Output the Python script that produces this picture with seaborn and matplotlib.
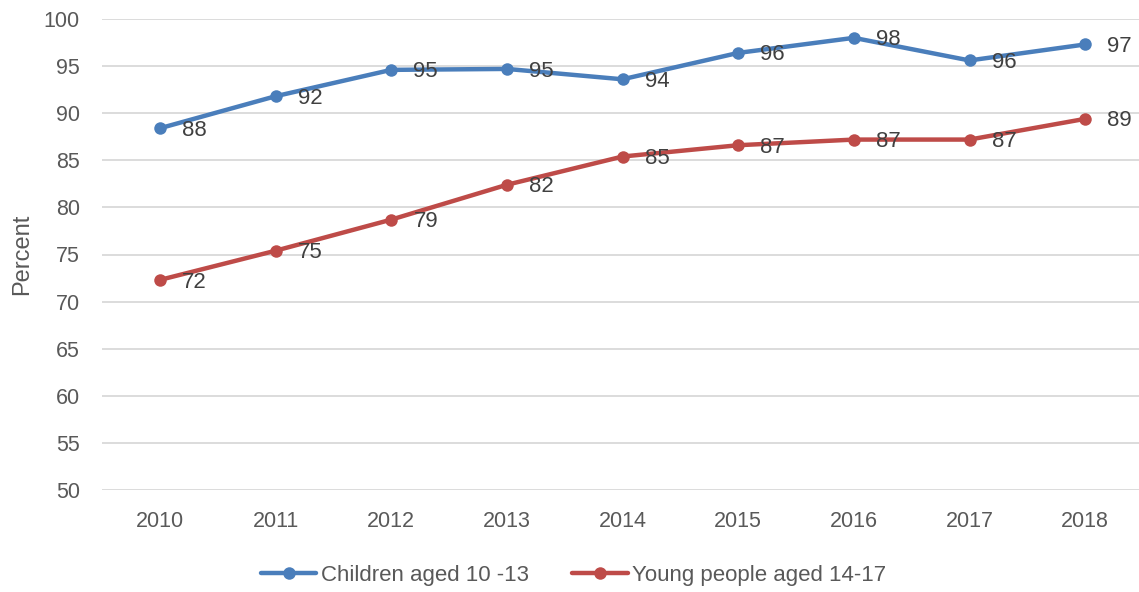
import matplotlib
matplotlib.use("Agg")
import matplotlib.pyplot as plt
import pandas as pd
import seaborn as sns

# Share of each age group, by year (percent)
years = [2010, 2011, 2012, 2013, 2014, 2015, 2016, 2017, 2018]
children_10_13 = [88.4, 91.8, 94.6, 94.7, 93.6, 96.4, 98.0, 95.6, 97.3]
young_14_17 = [72.3, 75.4, 78.7, 82.4, 85.4, 86.6, 87.2, 87.2, 89.4]
series_names = ["Children aged 10 -13", "Young people aged 14-17"]
y_ticks = [50, 55, 60, 65, 70, 75, 80, 85, 90, 95, 100]

colors = ["#4A7EBB", "#BE4B48"]

df = pd.concat([
    pd.DataFrame({"Year": years, "Percent": children_10_13, "Series": series_names[0]}),
    pd.DataFrame({"Year": years, "Percent": young_14_17, "Series": series_names[1]}),
])

sns.set_theme(style="white")
plt.rcParams["font.family"] = ["Liberation Sans", "DejaVu Sans"]

fig = plt.figure(figsize=(11.39, 5.92), dpi=100)
ax = fig.add_axes([102 / 1139, 1 - 490 / 592, (1143 - 102) / 1139, (490 - 19) / 592])

sns.lineplot(
    data=df, x="Year", y="Percent", hue="Series", palette=colors,
    marker="o", markersize=9, markeredgewidth=0, linewidth=3.2,
    ax=ax, legend=True,
)

# Value labels to the right of each point
for vals in (children_10_13, young_14_17):
    for x, v in zip(years, vals):
        ax.annotate(f"{v:.0f}", (x, v), xytext=(16, -1.5), textcoords="offset points",
                    ha="left", va="center", fontsize=16, color="#404040")

ax.set_xlim(years[0] - 0.5, years[-1] + 0.5)
ax.set_ylim(50, 100)
ax.set_yticks(y_ticks)
ax.set_xticks(years)
ax.set_xticklabels([str(y) for y in years])
ax.yaxis.grid(True, color="#D9D9D9", linewidth=1.3)
ax.xaxis.grid(False)
for s in ax.spines.values():
    s.set_visible(False)
ax.tick_params(axis="y", length=0, pad=16, labelsize=15.5, labelcolor="#595959")
ax.tick_params(axis="x", length=0, pad=15, labelsize=15.5, labelcolor="#595959")
ax.set_xlabel("")
ax.set_ylabel("Percent", fontsize=17, color="#595959")
ax.yaxis.set_label_coords(-0.066, 0.5)

handles, labels = ax.get_legend_handles_labels()
ax.get_legend().remove()
fig.legend(handles, labels, loc="center", bbox_to_anchor=(0.5035, 0.0287), ncol=2,
           frameon=False, fontsize=16, labelcolor="#595959", handlelength=2.5,
           handletextpad=0.2, columnspacing=1.95)

fig.savefig("out.png", dpi=100)
